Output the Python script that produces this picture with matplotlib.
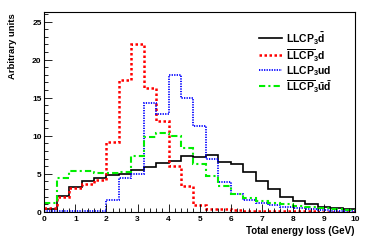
import numpy as np
import matplotlib
matplotlib.use('Agg')
import matplotlib.pyplot as plt
from matplotlib.ticker import MultipleLocator

plt.rcParams['font.family'] = 'Liberation Sans'
plt.rcParams['mathtext.fontset'] = 'custom'
plt.rcParams['mathtext.rm'] = 'Liberation Sans:bold'
plt.rcParams['mathtext.bf'] = 'Liberation Sans:bold'
plt.rcParams['mathtext.it'] = 'Liberation Sans:bold'

# 25 bins of 0.4 GeV
edges = np.linspace(0, 10, 26)

llcp_dbar = [0.4, 2.1, 3.3, 4.0, 4.4, 4.8, 5.0, 5.5, 5.9, 6.4, 6.7, 7.3, 7.2,
             7.4, 6.5, 6.3, 5.2, 4.0, 3.0, 2.0, 1.45, 1.0, 0.65, 0.45, 0.3]
llcpbar_d = [0.5, 2.0, 3.1, 3.7, 4.2, 9.2, 17.3, 22.0, 16.3, 11.9, 6.0, 3.4, 0.9,
             0.35, 0.3, 0.2, 0.15, 0.1, 0.1, 0.05, 0.05, 0.05, 0.0, 0.0, 0.0]
llcp_ud = [0.05, 0.05, 0.05, 0.05, 0.05, 1.6, 4.5, 5.0, 14.3, 12.9, 18.0, 15.0, 11.3,
           6.9, 3.9, 2.3, 1.6, 1.15, 0.85, 0.65, 0.45, 0.35, 0.2, 0.1, 0.05]
llcpbar_ubardbar = [1.2, 4.4, 5.3, 5.3, 5.05, 5.05, 5.2, 7.3, 9.8, 10.4, 9.9, 8.4, 6.3,
                    4.65, 3.4, 2.4, 1.75, 1.45, 1.2, 1.0, 0.8, 0.65, 0.45, 0.3, 0.2]

labels = [r'$\mathrm{LLCP_{3}\bar{d}}$',
          r'$\overline{\mathrm{LLCP}}_{3}\mathrm{d}$',
          r'$\mathrm{LLCP_{3}ud}$',
          r'$\overline{\mathrm{LLCP}}_{3}\bar{\mathrm{u}}\bar{\mathrm{d}}$']

fig = plt.figure(figsize=(3.74, 2.53), dpi=100)
ax = fig.add_axes([0.1185, 0.159, 0.8305, 0.788])

ax.stairs(llcp_dbar, edges, baseline=None, color='black', lw=1.2, ls='-', label=labels[0])
ax.stairs(llcpbar_d, edges, baseline=None, color='#ff0000', lw=1.8, ls=(0, (1, 1)), label=labels[1])
ax.stairs(llcp_ud, edges, baseline=None, color='#0000ff', lw=1.3, ls=(0, (0.7, 0.7)), label=labels[2])
ax.stairs(llcpbar_ubardbar, edges, baseline=None, color='#00ee00', lw=1.5, ls=(0, (3, 1.5, 1, 1.5)), label=labels[3])

ax.set_xlim(0, 10)
ax.set_ylim(0, 26.2)
ax.xaxis.set_major_locator(MultipleLocator(1))
ax.xaxis.set_minor_locator(MultipleLocator(0.2))
ax.yaxis.set_major_locator(MultipleLocator(5))
ax.yaxis.set_minor_locator(MultipleLocator(1))
ax.tick_params(which='both', direction='in', top=False, right=False, labelsize=6, pad=2, width=0.6)
ax.tick_params(which='major', length=6)
ax.tick_params(which='minor', length=3)
for lab in ax.get_xticklabels() + ax.get_yticklabels():
    lab.set_fontweight('bold')
for s in ax.spines.values():
    s.set_linewidth(0.8)

ax.set_xlabel('Total energy loss (GeV)', fontsize=7, fontweight='bold')
ax.xaxis.set_label_coords(1.0, -0.065)
ax.xaxis.label.set_horizontalalignment('right')
ax.set_ylabel('Arbitrary units', fontsize=6.8, fontweight='bold')
ax.yaxis.set_label_coords(-0.117, 1.0)
ax.yaxis.label.set_verticalalignment('top')
ax.yaxis.label.set_horizontalalignment('right')

ax.legend(loc='upper left', bbox_to_anchor=(0.675, 0.94), frameon=False, fontsize=7.5,
          handlelength=2.2, handletextpad=0.4, labelspacing=0.05, borderpad=0)

fig.savefig('out.png', dpi=100)
